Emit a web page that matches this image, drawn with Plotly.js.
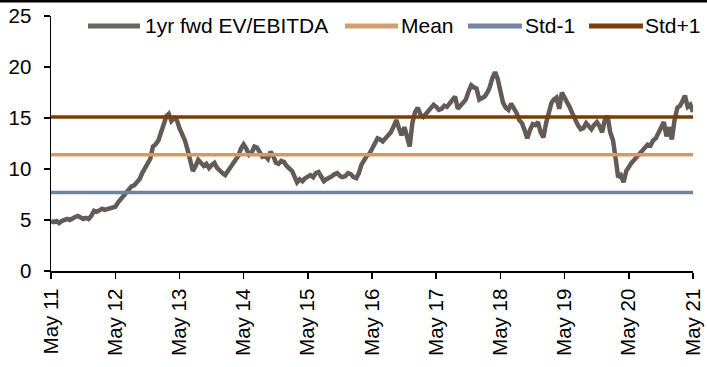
<!DOCTYPE html>
<html>
<head>
<meta charset="utf-8">
<script src="https://cdn.plot.ly/plotly-3.0.1.min.js"></script>
<style>html,body{margin:0;padding:0;background:#fff;}#chart{width:707px;height:367px;}</style>
</head>
<body>
<div id="chart"></div>
<script>
// Semi-monthly observations (1st and 16th of each month), starting May 2011
const startYear = 2011, startMonth = 5;
const v2011 = [4.9,4.8,4.9,4.7,4.9,5.0,5.1,5.0,5.2,5.3,5.4,5.2,5.1,5.2,5.1,5.4,5.9,5.8,5.9,6.1,6.0,6.1,6.2,6.3];
const v2012 = [6.3,6.7,7.0,7.3,7.6,8.0,8.3,8.4,8.8,9.0,9.6,10.1,10.4,11.0,12.2,12.4,12.8,13.5,14.3,15.2,15.4,14.7,15.0,14.8];
const v2013 = [14.0,13.5,12.8,11.9,10.8,9.8,10.3,10.9,10.6,10.3,10.5,10.1,10.4,10.6,10.1,9.8,9.6,9.4,9.8,10.2,10.6,10.9,11.3,12.0];
const v2014 = [12.4,12.0,11.4,11.6,12.2,12.1,11.5,11.2,11.3,11.0,11.7,11.3,10.6,10.5,10.8,10.7,10.3,10.0,9.8,9.2,8.7,9.0,8.8,9.1];
const v2015 = [9.3,9.4,9.2,9.6,9.7,9.3,8.8,9.0,9.1,9.3,9.5,9.6,9.3,9.2,9.3,9.6,9.5,9.2,9.1,9.6,10.4,10.9,11.3,11.5];
const v2016 = [12.0,12.4,13.0,12.9,12.7,13.0,13.4,13.6,14.2,14.8,14.0,13.3,14.1,13.2,12.2,14.5,15.6,16.0,15.3,15.1,15.4,15.7,16.0,16.3];
const v2017 = [16.1,15.8,15.9,16.2,16.1,16.4,16.8,17.1,15.9,16.2,16.5,16.8,17.6,18.2,18.0,17.9,16.8,16.9,17.1,17.5,18.0,18.9,19.5,18.8];
const v2018 = [17.4,16.5,16.0,15.8,16.4,16.0,15.5,14.8,14.5,13.8,13.0,13.8,14.4,14.3,14.6,13.6,13.1,14.5,15.5,16.5,16.8,17.0,15.9,17.5];
const v2019 = [17.0,16.6,16.0,15.4,14.8,14.3,13.9,14.0,14.5,14.2,13.9,14.3,14.6,14.2,13.6,14.8,15.2,13.6,12.8,11.0,9.2,9.4,8.7,9.8];
const v2020 = [10.3,10.6,10.9,11.2,11.6,11.9,12.1,12.4,12.3,12.8,13.0,13.5,14.0,14.6,13.2,14.1,12.9,14.8,16.0,16.2,16.6,17.2,16.1,16.3,15.6];

const meanVal = 11.4;
const stdMinus1 = 7.7;
const stdPlus1 = 15.1;

const tickDates = ["2011-05-01","2012-05-01","2013-05-01","2014-05-01","2015-05-01","2016-05-01","2017-05-01","2018-05-01","2019-05-01","2020-05-01","2021-05-01"];
const tickLabels = ["May 11","May 12","May 13","May 14","May 15","May 16","May 17","May 18","May 19","May 20","May 21"];

const seriesNames = ["1yr fwd EV/EBITDA","Mean","Std-1","Std+1"];
const seriesColors = ["#625b58","#d29b65","#6f829e","#7a3d06"];
const legendColors = ["#6b6562","#d39f6f","#7585a2","#7b3f0b"];

const values = [].concat(v2011,v2012,v2013,v2014,v2015,v2016,v2017,v2018,v2019,v2020);
const dates = values.map((_, i) => {
  const m = startMonth - 1 + Math.floor(i / 2);
  const y = startYear + Math.floor(m / 12);
  const mm = String(m % 12 + 1).padStart(2, "0");
  return y + "-" + mm + "-" + (i % 2 ? "16" : "01");
});
const first = dates[0], last = dates[dates.length - 1];

const FONT = "Liberation Sans, Arial, sans-serif";

const traces = [
  {x: dates, y: values, name: seriesNames[0], mode: "lines", line: {color: seriesColors[0], width: 4.5}},
  {x: [first, last], y: [meanVal, meanVal], name: seriesNames[1], mode: "lines", line: {color: seriesColors[1], width: 3.5}},
  {x: [first, last], y: [stdMinus1, stdMinus1], name: seriesNames[2], mode: "lines", line: {color: seriesColors[2], width: 3.5}},
  {x: [first, last], y: [stdPlus1, stdPlus1], name: seriesNames[3], mode: "lines", line: {color: seriesColors[3], width: 3.5}}
];

// Legend drawn as a row of line samples + labels (paper coordinates)
const legendY = 0.961;
const legendSym = [[0.0576, 0.1386], [0.4579, 0.5405], [0.6495, 0.7336], [0.8380, 0.9221]];
const legendText = [0.1450, 0.5440, 0.7370, 0.9240];

const shapes = [{type: "line", xref: "paper", yref: "paper", x0: -0.1, x1: 1.1, y0: 1.059, y1: 1.059,
                 line: {color: "#000", width: 3}}];
const annotations = [];
seriesNames.forEach((nm, k) => {
  shapes.push({type: "line", xref: "paper", yref: "paper", x0: legendSym[k][0], x1: legendSym[k][1],
               y0: legendY, y1: legendY, line: {color: legendColors[k], width: 5}});
  annotations.push({xref: "paper", yref: "paper", x: legendText[k], y: legendY, xanchor: "left", yanchor: "middle",
                    text: nm, showarrow: false, borderpad: 0, font: {family: FONT, size: 21, color: "#000"}});
});

const layout = {
  width: 707, height: 367,
  margin: {l: 51, r: 14, t: 16, b: 96},
  paper_bgcolor: "#ffffff", plot_bgcolor: "#ffffff",
  font: {family: FONT, size: 20, color: "#000"},
  showlegend: false,
  xaxis: {type: "date", range: [tickDates[0], tickDates[tickDates.length - 1]],
          tickmode: "array", tickvals: tickDates, ticktext: tickLabels, tickangle: -90,
          showline: true, linecolor: "#000", linewidth: 1.5, ticks: "outside", ticklen: 6,
          tickcolor: "#000", tickwidth: 1.5, showgrid: false, zeroline: false,
          ticklabelstandoff: 2, tickfont: {family: FONT, size: 20.5, color: "#000"}},
  yaxis: {range: [0, 25], tickmode: "array", tickvals: [0,5,10,15,20,25],
          showline: true, linecolor: "#000", linewidth: 1.5, ticks: "outside", ticklen: 6,
          tickcolor: "#000", tickwidth: 1.5, showgrid: false, zeroline: false,
          ticklabelstandoff: 8, tickfont: {family: FONT, size: 20.5, color: "#000"}},
  shapes: shapes,
  annotations: annotations
};

Plotly.newPlot("chart", traces, layout, {displayModeBar: false, staticPlot: true});
</script>
</body>
</html>
